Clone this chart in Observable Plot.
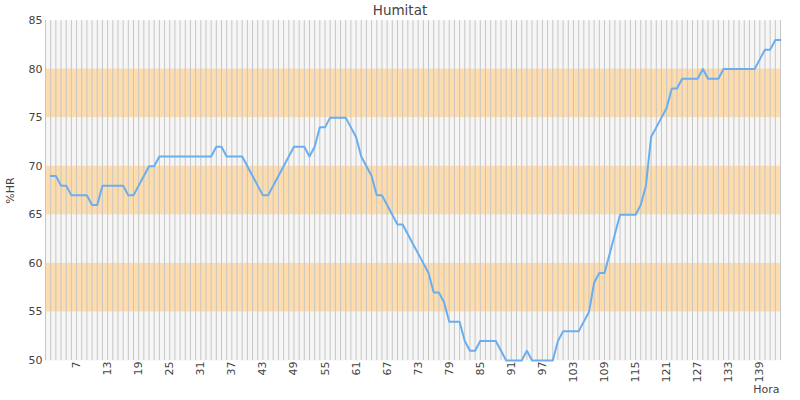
<!DOCTYPE html>
<html>
<head>
<meta charset="utf-8">
<script src="https://cdn.jsdelivr.net/npm/d3@7"></script>
<script src="https://cdn.jsdelivr.net/npm/@observablehq/plot@0.6"></script>
<style>
  html, body { margin: 0; padding: 0; background: #fff; }
  #chart svg { display: block; }
</style>
</head>
<body>
<div id="chart"></div>
<script>
// Hours (x) and relative humidity values (%HR)
const hours = [
  2,3,4,5,6,7,8,9,10,11,12,13,14,15,16,17,18,19,20,21,22,23,24,25,26,27,28,29,30,31,32,33,34,35,36,37,38,39,40,41,
  42,43,44,45,46,47,48,49,50,51,52,53,54,55,56,57,58,59,60,61,62,63,64,65,66,67,68,69,70,71,72,73,74,75,76,77,78,79,80,81,
  82,83,84,85,86,87,88,89,90,91,92,93,94,95,96,97,98,99,100,101,102,103,104,105,106,107,108,109,110,111,112,113,114,115,116,117,118,119,120,121,
  122,123,124,125,126,127,128,129,130,131,132,133,134,135,136,137,138,139,140,141,142,143
];
const humidity = [
  69,69,68,68,67,67,67,67,66,66,68,68,68,68,68,67,67,68,69,70,70,71,71,71,71,71,71,71,71,71,71,71,72,72,71,71,71,71,70,69,
  68,67,67,68,69,70,71,72,72,72,71,72,74,74,75,75,75,75,74,73,71,70,69,67,67,66,65,64,64,63,62,61,60,59,57,57,56,54,54,54,
  52,51,51,52,52,52,52,51,50,50,50,50,51,50,50,50,50,50,52,53,53,53,53,54,55,58,59,59,61,63,65,65,65,65,66,68,73,74,75,76,
  78,78,79,79,79,79,80,79,79,79,80,80,80,80,80,80,80,81,82,82,83,83
];
// Axis domain and tick labels
const xDomain = [1, 143];
const yDomain = [50, 85];
const xTicks = [7,13,19,25,31,37,43,49,55,61,67,73,79,85,91,97,103,109,115,121,127,133,139];
const yTicks = [50,55,60,65,70,75,80,85];
const gridHours = d3.range(1, 144);
// Shaded humidity bands
const bandLow = [55, 65, 75];
const bandHigh = [60, 70, 80];

const data = hours.map((h, i) => ({hora: h, hr: humidity[i]}));
const bands = bandLow.map((lo, i) => ({lo, hi: bandHigh[i]}));

const chart = Plot.plot({
  width: 800,
  height: 400,
  marginLeft: 45,
  marginRight: 20,
  marginTop: 20,
  marginBottom: 40,
  style: {fontFamily: "DejaVu Sans, sans-serif", fontSize: "11px", color: "#444", background: "#fff"},
  x: {domain: xDomain},
  y: {domain: yDomain},
  marks: [
    Plot.frame({fill: "#f6f6f6", stroke: null}),
    Plot.rect(bands, {y1: "lo", y2: "hi", fill: "#fddcae"}),
    Plot.gridX({ticks: gridHours, stroke: "#c6c6c6", strokeOpacity: 1, strokeWidth: 1}),
    Plot.line(data, {x: "hora", y: "hr", stroke: "#6aaef0", strokeWidth: 2}),
    Plot.axisY({ticks: yTicks, tickSize: 0, tickPadding: 3, fontSize: 11,
      label: "%HR", labelAnchor: "center", labelArrow: "none", labelOffset: 39}),
    Plot.axisX({ticks: xTicks, tickSize: 0, tickPadding: 1, tickRotate: -90, fontSize: 11, label: null}),
    Plot.text(["Hora"], {frameAnchor: "bottom-right", textAnchor: "end", lineAnchor: "middle", dy: 29, dx: -1, fontSize: 11, fill: "#444"}),
    Plot.text(["Humitat"], {frameAnchor: "top", dy: -10, dx: -13, fontSize: 13.5, fill: "#444", lineAnchor: "middle"})
  ]
});
document.getElementById("chart").appendChild(chart);
</script>
</body>
</html>
